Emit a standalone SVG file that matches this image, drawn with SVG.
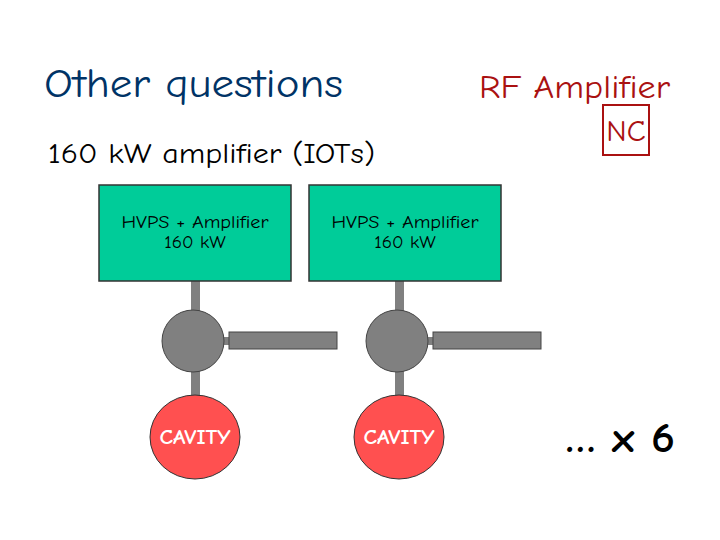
<svg xmlns="http://www.w3.org/2000/svg" width="720" height="540" viewBox="0 0 720 540">
<style>
.f{font-family:"Comic Neue","Liberation Sans",sans-serif}
.box{fill:#00cc99;stroke:#333;stroke-width:1.5}
.g{fill:#808080}
.gc{fill:#808080;stroke:#444;stroke-width:1}
.cav{fill:#ff5050;stroke:#333;stroke-width:1}
</style>
<rect width="720" height="540" fill="#fff"/>
<text class="f" x="44" y="97" font-size="41" fill="#003366" textLength="299" lengthAdjust="spacingAndGlyphs">Other questions</text>
<text class="f" x="479" y="98" font-size="32" fill="#aa1111" textLength="191" lengthAdjust="spacingAndGlyphs">RF Amplifier</text>
<rect x="603" y="105" width="46" height="50" fill="none" stroke="#aa1111" stroke-width="2"/>
<text class="f" x="626" y="141" font-size="31" fill="#aa1111" text-anchor="middle">NC</text>
<text class="f" x="48" y="163" font-size="28" fill="#000" textLength="327" lengthAdjust="spacingAndGlyphs">160 kW amplifier (IOTs)</text>
<g id="connectors">
<rect class="g" x="191" y="281" width="9" height="36"/>
<rect class="g" x="191" y="365" width="9" height="32"/>
<rect class="g" x="223" y="337" width="7" height="8"/>
<rect class="g" x="395" y="281" width="9" height="36"/>
<rect class="g" x="395" y="365" width="9" height="32"/>
<rect class="g" x="427" y="337" width="7" height="8"/>
</g>
<g id="amp1"><rect class="box" x="99" y="185" width="192" height="96"/>
<text class="f" x="195" y="228" font-size="19" text-anchor="middle" textLength="147" lengthAdjust="spacingAndGlyphs">HVPS + Amplifier</text>
<text class="f" x="195" y="248" font-size="19" text-anchor="middle">160 kW</text></g>
<g id="amp2"><rect class="box" x="309" y="185" width="192" height="96"/>
<text class="f" x="405" y="228" font-size="19" text-anchor="middle" textLength="147" lengthAdjust="spacingAndGlyphs">HVPS + Amplifier</text>
<text class="f" x="405" y="248" font-size="19" text-anchor="middle">160 kW</text></g>
<g id="circ1"><circle class="gc" cx="193" cy="341" r="31"/></g>
<g id="bar1"><rect class="gc" x="229" y="332" width="108" height="17"/></g>
<g id="circ2"><circle class="gc" cx="397" cy="341" r="31"/></g>
<g id="bar2"><rect class="gc" x="433" y="332" width="108" height="17"/></g>
<g id="cav1"><ellipse class="cav" cx="195" cy="437" rx="45" ry="42"/>
<text class="f" x="195" y="444" font-size="20" font-weight="bold" fill="#fff" text-anchor="middle" textLength="71" lengthAdjust="spacingAndGlyphs">CAVITY</text></g>
<g id="cav2"><ellipse class="cav" cx="399" cy="437" rx="45" ry="42"/>
<text class="f" x="399" y="444" font-size="20" font-weight="bold" fill="#fff" text-anchor="middle" textLength="71" lengthAdjust="spacingAndGlyphs">CAVITY</text></g>
<text class="f" x="565" y="452" font-size="42" font-weight="bold" fill="#000" textLength="110" lengthAdjust="spacingAndGlyphs">… x 6</text>
</svg>
